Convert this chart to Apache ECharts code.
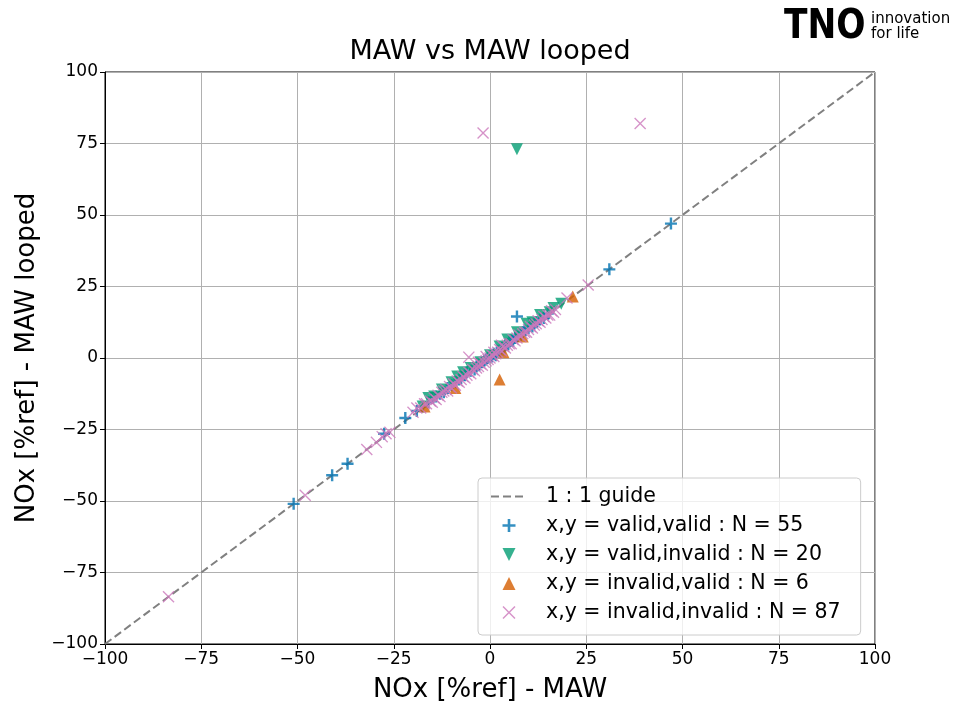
<!DOCTYPE html>
<html>
<head>
<meta charset="utf-8">
<script src="https://cdn.jsdelivr.net/npm/echarts@6/dist/echarts.min.js"></script>
<style>html,body{margin:0;padding:0;background:#fff;}#c{width:960px;height:705px;}</style>
</head>
<body>
<div id="c"></div>
<script>
const titleText = 'MAW vs MAW looped';
const xName = 'NOx [%ref] - MAW';
const yName = 'NOx [%ref] - MAW looped';
const axisMin = -100, axisMax = 100, axisStep = 25;
const guideLabel = '1 : 1 guide';
const guideLine = [[-100, -100], [100, 100]];

const validValidLabel = 'x,y = valid,valid : N = 55';
const validValid = [[47,47],[31,31],[7,14.5],[-22,-21],[-27.5,-26.5],[-37,-37],[-41,-41],[-51,-51],
[-19,-18.5],[-17.5,-17],[-16,-15.5],[-15,-14],[-14,-13.5],[-13,-12.5],[-12,-12],[-11,-10.5],[-10,-9.5],[-9,-8.5],
[-8,-7.5],[-7.5,-7],[-6.5,-6],[-6,-5],[-5,-4.5],[-4,-4],[-3.5,-3],[-3,-2.5],[-2,-1.5],[-1.5,-1],[-1,-0.5],[-0.5,0],
[0,0.5],[0.5,0.5],[1,1.5],[1.5,1],[2,2.5],[2.5,2],[3,3.5],[3.5,3],[4,4.5],[4.5,5],[5,5.5],[5.5,6],[6,6],[6.5,7],
[7,7.5],[8,8],[8.5,9],[9,9.5],[10,10.5],[11,11],[11.5,12],[12,12.5],[13,13.5],[14,14],[15,15.5]];

const validInvalidLabel = 'x,y = valid,invalid : N = 20';
const validInvalid = [[7,73],[18.5,19],[15.5,16],[13,15],[9.5,12],[7,9],[4.5,6.5],[-2.5,-1.5],[-7,-5],[-8.5,-6.5],
[-12.5,-11],[-14.5,-13.5],[-16,-14],[-10,-8.5],[-5,-3.5],[0,1],[2.5,4],[11,12.5],[16.5,17.5],[-17.5,-17]];

const invalidValidLabel = 'x,y = invalid,valid : N = 6';
const invalidValid = [[21.5,21.5],[2.5,-7.5],[-17,-17],[-9,-10.5],[3.5,2],[8.5,7.5]];

const invalidInvalidLabel = 'x,y = invalid,invalid : N = 87';
const invalidInvalid = [[-83.5,-83.5],[-48,-48],[-32,-32],[-29.5,-29.5],[-28,-27.5],[-27,-26.5],[-26,-26],
[-1.8,78.7],[39,82],[25.5,25.5],[20,21],[-5.5,0.3],[-20,-19],[-19,-17.5],
[-18,-17.5],[-17,-16],[-16.5,-16],[-15.5,-15],[-15,-15.5],[-14.5,-14],[-14,-14.5],[-13.5,-13],[-13,-13.5],
[-12.5,-12],[-12,-11.5],[-11.5,-11],[-11,-11.5],[-10.5,-10],[-10,-10.5],[-9.5,-9],[-9,-9.5],[-8.5,-8],[-8,-8.5],
[-7.5,-7.5],[-7,-6.5],[-6.5,-7],[-6,-6],[-5.5,-5],[-5,-5.5],[-4.5,-4],[-4,-4.5],[-3.5,-3.5],[-3,-3],[-2.5,-2],
[-2,-2.5],[-1.5,-1.5],[-1,-1],[-0.5,-0.5],[0,0],[0.5,1],[1,0.5],[1.5,1.5],[2,2],[2.5,3],[3,2.5],[3.5,4],[4,3.5],
[4.5,4.5],[5,5],[5.5,5],[6,6.5],[6.5,6],[7,7],[7.5,8],[8,7.5],[8.5,8.5],[9,9],[9.5,9],[10,10],[10.5,11],[11,10.5],
[11.5,11.5],[12,12],[12.5,13],[13,12.5],[13.5,13.5],[14,14.5],[14.5,14],[15,15],[15.5,15],[16,16.5],[16.5,16],
[17,17],[1,2],[-1,0.5],[3,4.5],[-3,-1.5]];

const FONT = 'DejaVu Sans';
const PLUS = 'path://M4,0H6V4H10V6H6V10H4V6H0V4H4Z';
const CROSS = 'path://M0,0.8L0.8,0L5,4.2L9.2,0L10,0.8L5.8,5L10,9.2L9.2,10L5,5.8L0.8,10L0,9.2L4.2,5Z';
const TRI_UP = 'path://M5,0L10,10H0Z';
const TRI_DOWN = 'path://M0,0H10L5,10Z';
const fmt = v => String(v).replace('-', '\u2212');

function axis(name, gap, rot) {
  return {
    type: 'value', min: axisMin, max: axisMax, interval: axisStep,
    name: name, nameLocation: 'middle', nameGap: gap, nameRotate: rot,
    nameTextStyle: {fontFamily: FONT, fontSize: 26, color: '#000'},
    axisLine: {show: true, onZero: false, lineStyle: {color: '#000', width: 1}},
    axisTick: {show: true, inside: false, length: 5, lineStyle: {color: '#000'}},
    axisLabel: {fontFamily: FONT, fontSize: 17, color: '#000', margin: 7, formatter: fmt},
    splitLine: {show: true, lineStyle: {color: '#b0b0b0', width: 1}}
  };
}

const chart = echarts.init(document.getElementById('c'), null, {renderer: 'canvas'});
chart.setOption({
  animation: false,
  backgroundColor: '#fff',
  grid: {left: 105, right: 85, top: 72, bottom: 61, outerBoundsMode: 'none', containLabel: false,
         show: true, borderColor: '#000', borderWidth: 1, backgroundColor: 'transparent'},
  xAxis: axis(xName, 33, 0),
  yAxis: axis(yName, 62, 90),
  legend: {
    orient: 'vertical', left: 478, top: 478,
    padding: [8, 20, 12, 12], itemGap: 8, itemWidth: 36, itemHeight: 13, symbolKeepAspect: true,
    backgroundColor: 'rgba(255,255,255,0.8)', borderColor: '#cccccc', borderWidth: 1, borderRadius: 4,
    textStyle: {fontFamily: FONT, fontSize: 20.5, color: '#000', padding: [0, 0, 0, 14]},
    data: [{name: guideLabel, itemStyle: {opacity: 0}}, validValidLabel, validInvalidLabel, invalidValidLabel, invalidInvalidLabel]
  },
  graphic: [
    {type: 'text', x: 490, y: 52, style: {text: titleText, font: '27px "DejaVu Sans"', fill: '#000', textAlign: 'center', textVerticalAlign: 'middle'}},
    {type: 'text', x: 784, y: 28, scaleX: 0.86, style: {text: 'TNO', font: '900 40px "DejaVu Sans"', fill: '#000', textAlign: 'left', textVerticalAlign: 'middle'}},
    {type: 'text', x: 871, y: 19, style: {text: 'innovation', font: '15px "DejaVu Sans"', fill: '#000', textAlign: 'left', textVerticalAlign: 'middle'}},
    {type: 'text', x: 871, y: 34, style: {text: 'for life', font: '15px "DejaVu Sans"', fill: '#000', textAlign: 'left', textVerticalAlign: 'middle'}}
  ],
  series: [
    {name: guideLabel, type: 'line', data: guideLine, showSymbol: false, symbol: 'none',
     lineStyle: {color: '#808080', width: 2, type: [8, 4]}, itemStyle: {color: '#808080'}, z: 1, silent: true},
    {name: validValidLabel, type: 'scatter', data: validValid, symbol: PLUS, symbolSize: 12, symbolKeepAspect: true,
     itemStyle: {color: '#0173b2', opacity: 0.8}, z: 2},
    {name: validInvalidLabel, type: 'scatter', data: validInvalid, symbol: TRI_DOWN, symbolSize: 12, symbolKeepAspect: true,
     itemStyle: {color: '#029e73', opacity: 0.8}, z: 3},
    {name: invalidValidLabel, type: 'scatter', data: invalidValid, symbol: TRI_UP, symbolSize: 12, symbolKeepAspect: true,
     itemStyle: {color: '#d55e00', opacity: 0.8}, z: 4},
    {name: invalidInvalidLabel, type: 'scatter', data: invalidInvalid, symbol: CROSS, symbolSize: 12, symbolKeepAspect: true,
     itemStyle: {color: '#cc78bc', opacity: 0.8}, z: 5}
  ]
});
</script>
</body>
</html>
